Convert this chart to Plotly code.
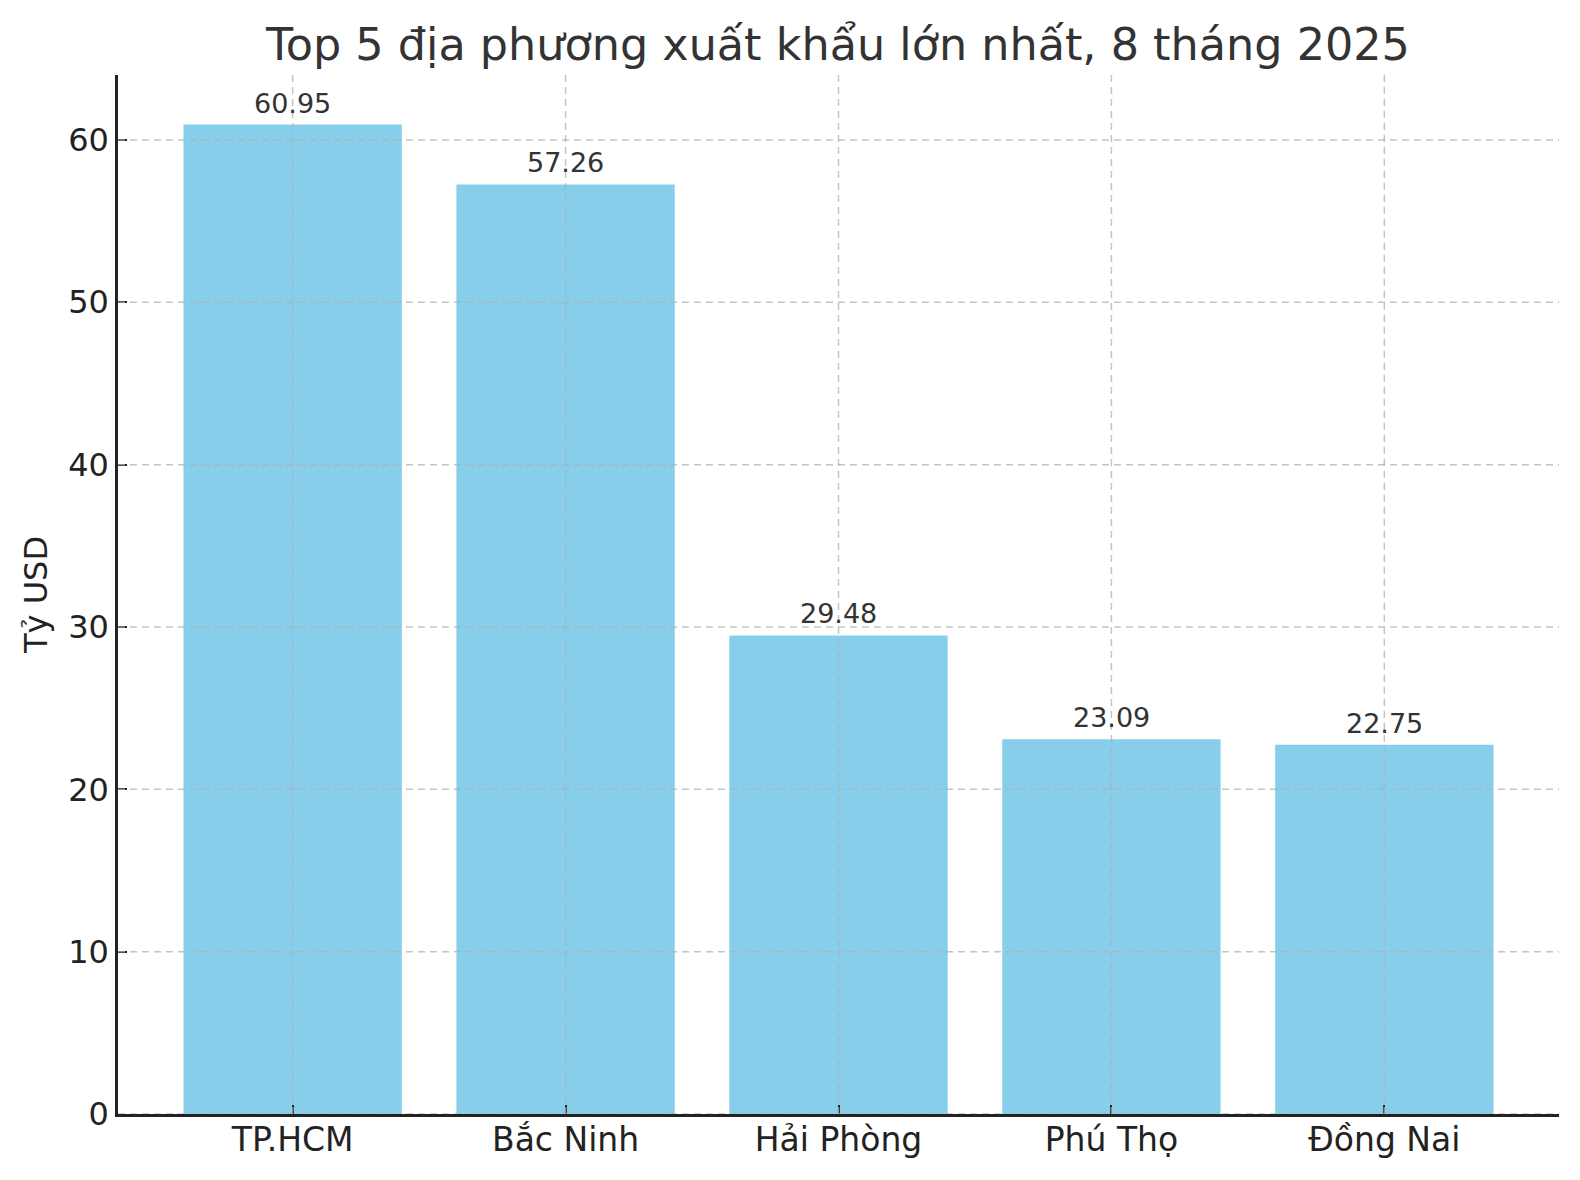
import plotly.graph_objects as go

# Dữ liệu
provinces = ["TP.HCM", "Bắc Ninh", "Hải Phòng", "Phú Thọ", "Đồng Nai"]
export_values = [60.95, 57.26, 29.48, 23.09, 22.75]
y_ticks = [0, 10, 20, 30, 40, 50, 60]

bar_color = "#87CEEB"
grid_color = "rgba(176,176,176,0.75)"
font_family = "DejaVu Sans"

fig = go.Figure()
fig.add_trace(go.Bar(
    x=provinces,
    y=export_values,
    marker=dict(color=bar_color, line=dict(width=0)),
    width=0.8,
    showlegend=False,
    hoverinfo="x+y",
))

# nhãn giá trị trên mỗi cột
for p, v in zip(provinces, export_values):
    fig.add_annotation(
        x=p, y=v, text=f"{v:.2f}", showarrow=False,
        yanchor="bottom", yshift=4,
        font=dict(family=font_family, size=27, color="#333333"),
    )

# lưới nét đứt vẽ phía trên cột (như matplotlib)
grid = []
for t in y_ticks:
    grid.append(dict(type="line", xref="paper", yref="y", x0=0, x1=1, y0=t, y1=t,
                     line=dict(color=grid_color, width=1.5, dash="7px,5px"), layer="above"))
for p in provinces:
    grid.append(dict(type="line", xref="x", yref="paper", x0=p, x1=p, y0=0, y1=1,
                     line=dict(color=grid_color, width=1.5, dash="7px,5px"), layer="above"))

fig.update_layout(
    width=1564, height=1164,
    margin=dict(l=110, r=13, t=67, b=58, autoexpand=False),
    paper_bgcolor="white", plot_bgcolor="white",
    font=dict(family=font_family, size=32, color="#222222"),
    title=dict(
        text="Top 5 địa phương xuất khẩu lớn nhất, 8 tháng 2025",
        x=0.5307, xanchor="center", y=0.9688, yanchor="middle",
        font=dict(family=font_family, size=44.5, color="#333333"),
    ),
    shapes=grid,
    bargap=0.2,
)

fig.update_xaxes(
    range=[-0.64, 4.64],
    showgrid=False, zeroline=False, automargin=False,
    showline=True, linecolor="#222222", linewidth=2.5,
    ticks="inside", ticklen=9, tickwidth=2, tickcolor="#222222",
    tickfont=dict(size=33, color="#222222"),
    ticklabelstandoff=-5,
)
fig.update_yaxes(
    range=[0, 64.0],
    tickvals=y_ticks,
    showgrid=False, zeroline=False, automargin=False,
    showline=True, linecolor="#222222", linewidth=2.5,
    ticks="inside", ticklen=9, tickwidth=2, tickcolor="#222222",
    tickfont=dict(size=32, color="#222222"),
    title=dict(text="Tỷ USD", font=dict(size=32, color="#222222"), standoff=11),
)

fig.write_html("out.html")
